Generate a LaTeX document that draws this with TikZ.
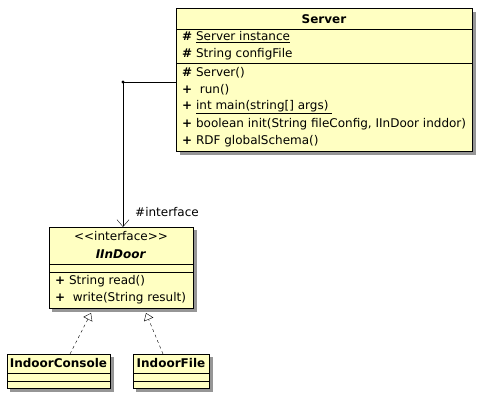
\documentclass[tikz,border=0pt]{standalone}
\usepackage{fontspec}
\setmainfont{DejaVu Sans}
\usetikzlibrary{arrows.meta}
\definecolor{umlfill}{RGB}{255,255,194}
\definecolor{umlshadow}{RGB}{150,150,150}

\begin{document}
\begin{tikzpicture}[x=1pt,y=-1pt,font=\fontsize{12}{14}\selectfont,
  member/.style={anchor=west,inner sep=0pt},
  boxline/.style={line width=1pt}]
\useasboundingbox (0,0) rectangle (489,401);
%
% shadows
\fill[umlshadow] (180,12) rectangle (476,155);
\fill[umlshadow] (52,230) rectangle (197,312);
\fill[umlshadow] (10,357) rectangle (114,392);
\fill[umlshadow] (136,357) rectangle (213,392);
%
% boxes
\fill[umlfill] (176,9) rectangle (472,151);
\fill[umlfill] (49,227) rectangle (193,308);
\fill[umlfill] (7,354) rectangle (110,388);
\fill[umlfill] (133,354) rectangle (209,388);
\draw[boxline] (176,9) rectangle (472,151);
\draw[boxline] (49,227) rectangle (193,308);
\draw[boxline] (7,354) rectangle (110,388);
\draw[boxline] (133,354) rectangle (209,388);
%
\draw (176,29) -- (472,29);
\draw (176,63) -- (472,63);
\draw (49,264) -- (193,264);
\draw (49,272) -- (193,272);
\draw (7,373) -- (110,373);
\draw (7,381) -- (110,381);
\draw (133,373) -- (209,373);
\draw (133,381) -- (209,381);
%
% Server
\node[inner sep=0pt] (srvname) at (324,19) {\textbf{Server}};
\node[member] (srvinst) at (182,37) {\textbf{\#} \underline{Server instance}};
\node[member] (srvconf) at (182,54) {\textbf{\#} String configFile};
\node[member] (srvctor) at (182,73) {\textbf{\#} Server()};
\node[member] (srvrun) at (182,90) {\textbf{+}\ \ run()};
\node[member] (srvmain) at (182,107) {\textbf{+} \underline{int main(string[] args)\ }};
\node[member] (srvinit) at (182,124) {\textbf{+} boolean init(String fileConfig, IInDoor inddor)};
\node[member] (srvrdf) at (182,141) {\textbf{+} RDF globalSchema()};
%
% IInDoor
\node[inner sep=0pt] (ifcstereo) at (121,236) {<{}<interface>{}>};
\node[inner sep=0pt] (ifcname) at (121,254) {\textbf{\textit{IInDoor}}};
\node[member] (ifcread) at (55,281) {\textbf{+} String read()};
\node[member] (ifcwrite) at (55,298) {\textbf{+}\ \ write(String result)};
%
\node[inner sep=0pt] (consolename) at (58.5,363) {\textbf{IndoorConsole}};
\node[inner sep=0pt] (filename) at (171,363) {\textbf{IndoorFile}};
%
% connectors
\coordinate (srvlink) at (176,82);
\coordinate (bend) at (123,82);
\coordinate (ifctop) at (123,227);
\draw[-{Straight Barb[length=7pt,width=12pt]}] (srvlink) -- (bend) -- (ifctop);
\fill (bend) circle (1.6);
\node[member] (assoclabel) at (135,212) {\#interface};
%
\coordinate (consoletop) at (70,354);
\coordinate (ifcbotA) at (91,313);
\coordinate (filetop) at (163,354);
\coordinate (ifcbotB) at (146,313);
\draw[dash pattern=on 3pt off 3pt,-{Triangle[open,fill=white,length=7pt,width=10pt]}] (consoletop) -- (ifcbotA);
\draw[dash pattern=on 3pt off 3pt,-{Triangle[open,fill=white,length=7pt,width=10pt]}] (filetop) -- (ifcbotB);
\end{tikzpicture}
\end{document}
